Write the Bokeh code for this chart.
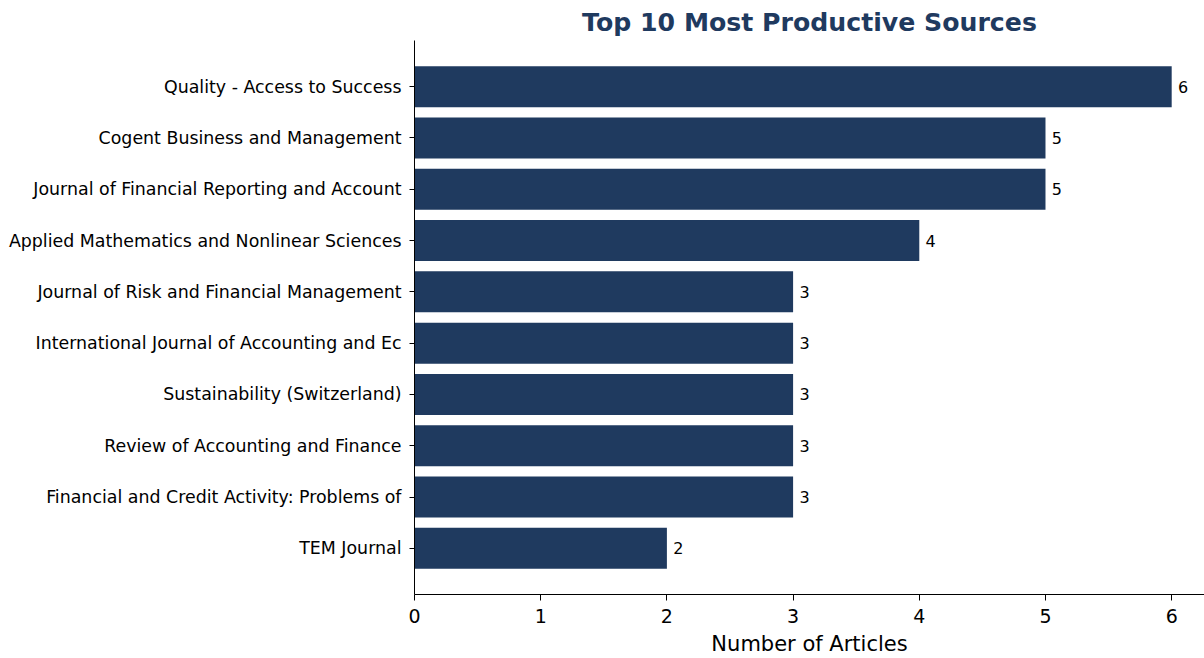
from bokeh.plotting import figure
from bokeh.models import ColumnDataSource, Range1d, FixedTicker, LabelSet
from bokeh.core.properties import value
from bokeh.embed import file_html
from bokeh.resources import INLINE

sources = [
    "Quality - Access to Success",
    "Cogent Business and Management",
    "Journal of Financial Reporting and Account",
    "Applied Mathematics and Nonlinear Sciences",
    "Journal of Risk and Financial Management",
    "International Journal of Accounting and Ec",
    "Sustainability (Switzerland)",
    "Review of Accounting and Finance",
    "Financial and Credit Activity: Problems of",
    "TEM Journal",
]
articles = [6, 5, 5, 4, 3, 3, 3, 3, 3, 2]
x_ticks = [0, 1, 2, 3, 4, 5, 6]

n = len(sources)
ypos = [n - 1 - i for i in range(n)]
src = ColumnDataSource(dict(y=ypos, v=articles, name=sources,
                            lbl=[str(a) for a in articles],
                            lx=[a + 0.05 for a in articles]))

BAR = "#1f3a5f"
FONT = "DejaVu Sans"

p = figure(width=1204, height=658, output_backend="svg", toolbar_location=None,
           x_range=Range1d(0, 6.26), y_range=Range1d(-0.9, 9.9),
           min_border_left=414, min_border_right=0, min_border_top=40, min_border_bottom=64)

p.hbar(y="y", right="v", left=0, height=0.8, source=src, fill_color=BAR, line_color=None)

labels = LabelSet(x="lx", y="y", text="lbl", source=src, text_baseline="middle",
                  text_align="left", text_font_size="16px", text_font=value(FONT),
                  text_color="#000000")
p.add_layout(labels)

p.title.text = "Top 10 Most Productive Sources"
p.title.align = "center"
p.title.text_font = FONT
p.title.text_font_size = "25.2px"
p.title.text_font_style = "bold"
p.title.text_color = BAR
p.title.offset = 0
p.title.standoff = 8

p.xgrid.visible = False
p.ygrid.visible = False
p.outline_line_color = None

xa = p.xaxis[0]
xa.ticker = FixedTicker(ticks=x_ticks)
xa.minor_tick_line_color = None
xa.major_tick_out = 6
xa.major_tick_in = 0
xa.axis_line_color = "#000000"
xa.major_tick_line_color = "#000000"
xa.major_label_text_font = FONT
xa.major_label_text_font_size = "19px"
xa.major_label_text_color = "#000000"
xa.major_label_standoff = 8
xa.axis_label = "Number of Articles"
xa.axis_label_text_font = FONT
xa.axis_label_text_font_size = "21px"
xa.axis_label_text_font_style = "normal"
xa.axis_label_text_color = "#000000"
xa.axis_label_standoff = 6

ya = p.yaxis[0]
ya.ticker = FixedTicker(ticks=ypos)
ya.major_label_overrides = {y: s for y, s in zip(ypos, sources)}
ya.minor_tick_line_color = None
ya.major_tick_out = 5
ya.major_tick_in = 0
ya.axis_line_color = "#000000"
ya.major_tick_line_color = "#000000"
ya.major_label_text_font = FONT
ya.major_label_text_font_size = "17.4px"
ya.major_label_text_color = "#000000"
ya.major_label_standoff = 8

open("out.html", "w").write(file_html(p, INLINE))
